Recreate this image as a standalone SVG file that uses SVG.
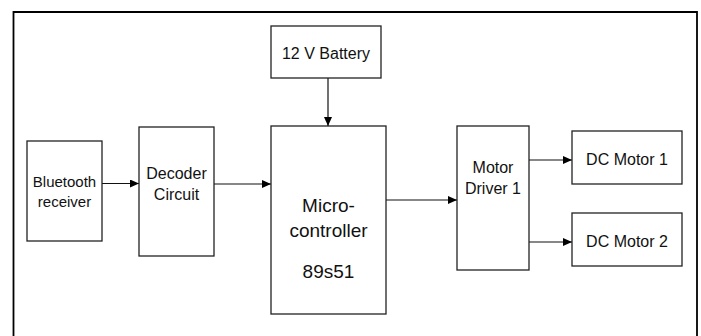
<svg xmlns="http://www.w3.org/2000/svg" width="701" height="336" viewBox="0 0 701 336">
<style>
.box{fill:#fff;stroke:#222;stroke-width:1.3}
.t{font-family:"Liberation Sans",Arial,sans-serif;font-size:16px;fill:#111;text-anchor:middle}
.big{font-size:19px}
.c{stroke:#111;stroke-width:1.2;fill:none;marker-end:url(#ah)}
</style>
<defs>
<marker id="ah" markerWidth="9" markerHeight="8" refX="9" refY="4" orient="auto" markerUnits="userSpaceOnUse">
<path d="M0,0 L9,4 L0,8 Z" fill="#000"/>
</marker>
</defs>
<rect width="701" height="336" fill="#fff"/>
<path d="M13.5,337 V12 H697 V337" fill="none" stroke="#000" stroke-width="1.8"/>
<g id="connectors">
<line class="c" x1="328" y1="78" x2="328" y2="126"/>
<line class="c" x1="102" y1="183.5" x2="139" y2="183.5"/>
<line class="c" x1="214" y1="184" x2="271" y2="184"/>
<line class="c" x1="386" y1="200" x2="457" y2="200"/>
<line class="c" x1="529" y1="160" x2="572" y2="160"/>
<line class="c" x1="529" y1="242" x2="572" y2="242"/>
</g>
<g id="battery">
<rect class="box" x="271" y="26" width="110" height="52"/>
<text class="t" x="326" y="59">12 V Battery</text>
</g>
<g id="bluetooth">
<rect class="box" x="27" y="141" width="75" height="100"/>
<text class="t" x="64.5" y="187" style="font-size:15px">Bluetooth</text>
<text class="t" x="64.5" y="207" style="font-size:15px">receiver</text>
</g>
<g id="decoder">
<rect class="box" x="139" y="127" width="75" height="129"/>
<text class="t" x="176.5" y="179">Decoder</text>
<text class="t" x="176.5" y="200">Circuit</text>
</g>
<g id="micro">
<rect class="box" x="271" y="126" width="115" height="188"/>
<text class="t big" x="328.5" y="212">Micro-</text>
<text class="t big" x="328.5" y="237">controller</text>
<text class="t big" x="328.5" y="278">89s51</text>
</g>
<g id="driver">
<rect class="box" x="457" y="126" width="72" height="144"/>
<text class="t" x="493" y="173">Motor</text>
<text class="t" x="493" y="194">Driver 1</text>
</g>
<g id="dc1">
<rect class="box" x="572" y="131" width="110" height="53"/>
<text class="t" x="627" y="165">DC Motor 1</text>
</g>
<g id="dc2">
<rect class="box" x="572" y="213" width="110" height="53"/>
<text class="t" x="627" y="247">DC Motor 2</text>
</g>
</svg>
